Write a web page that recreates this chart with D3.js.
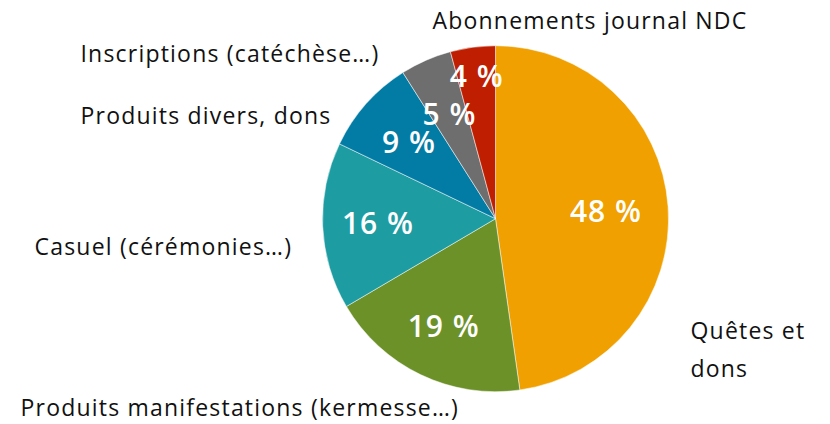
<!DOCTYPE html>
<html>
<head>
<meta charset="utf-8">
<script src="https://cdn.jsdelivr.net/npm/d3@7"></script>
<style>
  body { margin: 0; background: #fff; }
  svg text { font-family: "Open Sans", Lato, sans-serif; }
  .outer { font-size: 23px; fill: #111; letter-spacing: 1.2px; }
  .inner { font-size: 30px; font-weight: 600; fill: #fff; letter-spacing: 1px; }
</style>
</head>
<body>
<div id="chart"></div>
<script>
// revenue share by source
const categories = [
  "Quêtes et dons",
  "Produits manifestations (kermesse…)",
  "Casuel (cérémonies…)",
  "Produits divers, dons",
  "Inscriptions (catéchèse…)",
  "Abonnements journal NDC"
];
const values = [47.8, 18.8, 15.6, 8.9, 4.8, 4.2];
const colors = ["#f0a000", "#6d9129", "#1d9ca2", "#027ca4", "#6e6e6e", "#bf1f00"];

const width = 830, height = 424;
const cx = 495.5, cy = 218.7, r = 173;

// where Excel put each category label, relative to the pie centre
const outerLabels = [
  {lines: ["Quêtes et", "dons"], dx: 195, dy: 120},
  {lines: ["Produits manifestations (kermesse…)"], dx: -475, dy: 197},
  {lines: ["Casuel (cérémonies…)"], dx: -461, dy: 36},
  {lines: ["Produits divers, dons"], dx: -415, dy: -95},
  {lines: ["Inscriptions (catéchèse…)"], dx: -415, dy: -157},
  {lines: ["Abonnements journal NDC"], dx: -63, dy: -190}
];
const labelRadius = [0.64, 0.69, 0.68, 0.67, 0.66, 0.83];

const svg = d3.select('#chart').append('svg')
  .attr('width', width)
  .attr('height', height);

const data = categories.map((c, i) => ({name: c, value: values[i], i}));

const pie = d3.pie()
  .value(d => d.value)
  .sort(null);

const arc = d3.arc().innerRadius(0).outerRadius(r);

const g = svg.append('g')
  .attr('transform', 'translate(' + cx + ',' + cy + ')');

const slices = pie(data);

g.selectAll('path')
  .data(slices)
  .enter().append('path')
  .attr('d', arc)
  .attr('fill', d => colors[d.data.i])
  .attr('stroke', '#fff')
  .attr('stroke-width', 0.5);

g.selectAll('text.inner')
  .data(slices)
  .enter().append('text')
  .attr('class', 'inner')
  .attr('text-anchor', 'middle')
  .attr('dy', '0.36em')
  .attr('transform', d => {
    const a = (d.startAngle + d.endAngle) / 2,
          rr = r * labelRadius[d.data.i];
    return 'translate(' + (Math.sin(a) * rr) + ',' + (-Math.cos(a) * rr) + ')';
  })
  .text(d => Math.round(d.data.value) + ' %');

outerLabels.forEach((l) => {
  const t = g.append('text')
    .attr('class', 'outer')
    .attr('x', l.dx)
    .attr('y', l.dy);
  l.lines.forEach((line, k) => {
    t.append('tspan')
      .attr('x', l.dx)
      .attr('dy', k === 0 ? 0 : 38)
      .text(line);
  });
});
</script>
</body>
</html>
